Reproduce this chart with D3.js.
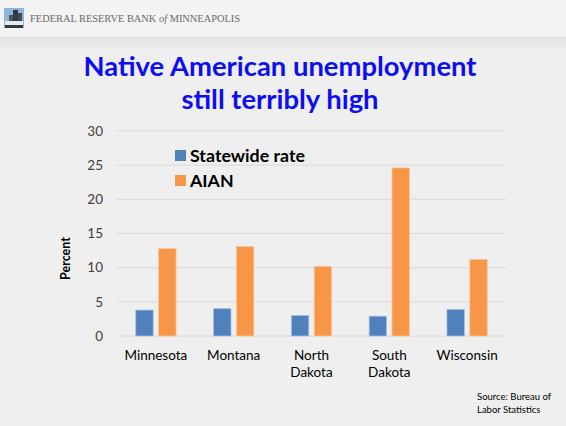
<!DOCTYPE html>
<html>
<head>
<meta charset="utf-8">
<script src="https://cdn.jsdelivr.net/npm/d3@7"></script>
<style>
  html, body { margin: 0; padding: 0; background: #efefef; }
  svg { display: block; }
</style>
</head>
<body>
<svg id="chart" width="566" height="426"></svg>
<script>
// Unemployment rates (%) by state: whole state vs American Indian / Alaska Native
const states = ["Minnesota", "Montana", "North Dakota", "South Dakota", "Wisconsin"];
const statewide = [3.8, 4.0, 3.0, 2.9, 3.9];
const aian = [12.8, 13.1, 10.2, 24.6, 11.2];
const seriesNames = ["Statewide rate", "AIAN"];
const seriesColors = ["#4f81bd", "#f79646"];
const yTicks = [0, 5, 10, 15, 20, 25, 30];

const svg = d3.select("#chart");
const W = 566, H = 426;

// Slide background and header strip
const defs = svg.append("defs");
const grad = defs.append("linearGradient").attr("id", "hdrShade")
  .attr("x1", 0).attr("y1", 0).attr("x2", 0).attr("y2", 1);
grad.append("stop").attr("offset", "0%").attr("stop-color", "#e3e3e3");
grad.append("stop").attr("offset", "100%").attr("stop-color", "#efefef");

svg.append("rect").attr("width", W).attr("height", H).attr("fill", "#efefef");
svg.append("rect").attr("width", W).attr("height", 37).attr("fill", "#f3f3f3");
svg.append("rect").attr("y", 37).attr("width", W).attr("height", 14).attr("fill", "url(#hdrShade)");

// Bank logo (stylised skyline)
const logo = svg.append("g").attr("transform", "translate(4,8)");
logo.append("rect").attr("x", 0).attr("y", 0).attr("width", 20).attr("height", 20).attr("fill", "#8fb6d8");
logo.append("rect").attr("x", 9).attr("y", 2).attr("width", 5).attr("height", 18).attr("fill", "#2e3a48");
logo.append("rect").attr("x", 14).attr("y", 5).attr("width", 4).attr("height", 15).attr("fill", "#3e4a58");
logo.append("rect").attr("x", 5).attr("y", 7).attr("width", 4).attr("height", 13).attr("fill", "#4a5664");
logo.append("rect").attr("x", 1).attr("y", 13).attr("width", 18).attr("height", 4).attr("fill", "#e8e8e8");
logo.append("rect").attr("x", 1).attr("y", 17).attr("width", 18).attr("height", 3).attr("fill", "#2e3a48");

const hdr = svg.append("text").attr("x", 30).attr("y", 22)
  .attr("font-family", "Liberation Serif, serif").attr("font-size", 10.4)
  .attr("fill", "#6a6a6a");
hdr.append("tspan").text("FEDERAL RESERVE BANK ");
hdr.append("tspan").attr("font-style", "italic").text("of");
hdr.append("tspan").text(" MINNEAPOLIS");

// Title
const title = svg.append("text").attr("text-anchor", "middle")
  .attr("font-family", "Lato, 'Open Sans', sans-serif").attr("font-weight", "bold")
  .attr("font-size", 27.4).attr("fill", "#0d0df2");
title.append("tspan").attr("x", 280).attr("y", 76).text("Native American unemployment");
title.append("tspan").attr("x", 280).attr("y", 109).text("still terribly high");

// Plot area
const x0 = 117, x1 = 506, yTop = 131, yBase = 336;

const x = d3.scaleBand().domain(states).range([x0, x1]).paddingInner(0).paddingOuter(0);
const y = d3.scaleLinear().domain([0, 30]).range([yBase, yTop]);

// Gridlines
svg.append("g").selectAll("line").data(yTicks).join("line")
  .attr("x1", x0).attr("x2", x1)
  .attr("y1", d => y(d)).attr("y2", d => y(d))
  .attr("stroke", "#d9d9d9").attr("stroke-width", 1);

// Y axis labels
const yAxis = svg.append("g").attr("transform", `translate(${x0},0)`)
  .call(d3.axisLeft(y).tickValues(yTicks).tickSize(0).tickPadding(14));
yAxis.select(".domain").remove();
yAxis.selectAll("text").attr("font-family", "Lato, 'Open Sans', sans-serif")
  .attr("font-size", 13.5).attr("fill", "#404040");

// Y axis title
svg.append("text").attr("transform", `translate(70,${(yTop + yBase) / 2 + 25}) rotate(-90)`)
  .attr("text-anchor", "middle").attr("font-family", "Lato, 'Open Sans', sans-serif")
  .attr("font-weight", "bold").attr("font-size", 12.5).attr("fill", "#000")
  .text("Percent");

// Bars
const inner = d3.scaleBand().domain([0, 1]).range([0, x.bandwidth()]).paddingInner(0.237).paddingOuter(0.82);
const seriesData = [statewide, aian];
seriesData.forEach((vals, si) => {
  svg.append("g").selectAll("rect").data(vals).join("rect")
    .attr("x", (d, i) => x(states[i]) + inner(si))
    .attr("width", inner.bandwidth())
    .attr("y", d => y(d))
    .attr("height", d => yBase - y(d))
    .attr("fill", seriesColors[si])
    .attr("stroke", si === 0 ? "#a9c0e0" : "#fbc79c")
    .attr("stroke-width", 0.8);
});

// X labels (wrapped on spaces)
const xl = svg.append("g");
states.forEach(s => {
  const t = xl.append("text").attr("text-anchor", "middle")
    .attr("font-family", "Lato, 'Open Sans', sans-serif").attr("font-size", 13.5)
    .attr("fill", "#000");
  s.split(" ").forEach((w, k) => {
    t.append("tspan").attr("x", x(s) + x.bandwidth() / 2).attr("y", 360 + k * 17).text(w);
  });
});

// Legend
const lg = svg.append("g");
seriesNames.forEach((n, i) => {
  lg.append("rect").attr("x", 175).attr("y", 150 + i * 25).attr("width", 11).attr("height", 11)
    .attr("fill", seriesColors[i]);
  lg.append("text").attr("x", 190).attr("y", 161.5 + i * 25)
    .attr("font-family", "Lato, 'Open Sans', sans-serif").attr("font-weight", "bold")
    .attr("font-size", 17.8).attr("fill", "#000").text(n);
});

// Source note
const src = svg.append("text").attr("font-family", "Lato, 'Open Sans', sans-serif")
  .attr("font-size", 9.5).attr("fill", "#000");
src.append("tspan").attr("x", 477).attr("y", 400).text("Source: Bureau of");
src.append("tspan").attr("x", 477).attr("y", 413).text("Labor Statistics");
</script>
</body>
</html>
